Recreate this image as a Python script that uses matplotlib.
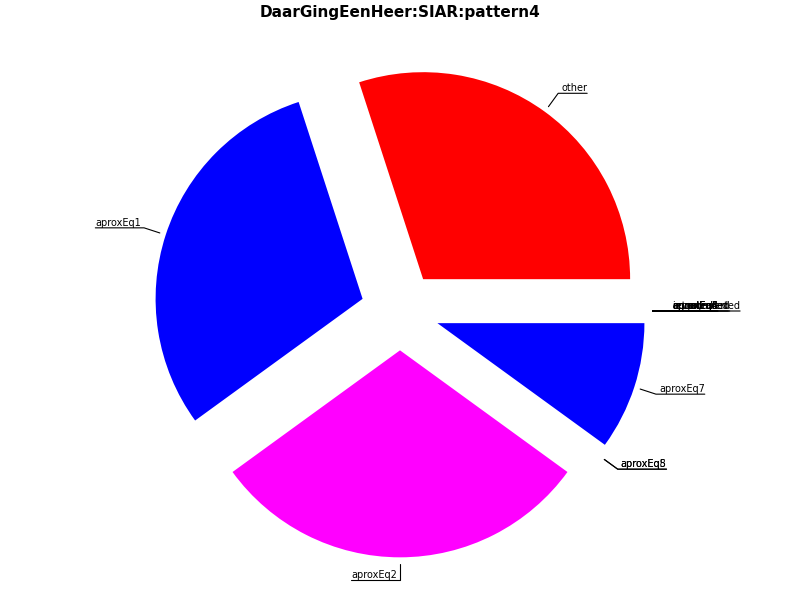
import numpy as np
import matplotlib
matplotlib.use("Agg")
import matplotlib.pyplot as plt

# ---- data ----
labels = ["other", "aproxEq1", "aproxEq2", "aproxEq5", "aproxEq8", "aproxEq7",
          "equal", "inverted", "retrograded", "augmented",
          "aproxEq3", "aproxEq4", "aproxEq6", "equalInverted"]
values = [3, 3, 3, 0, 0, 1, 0, 0, 0, 0, 0, 0, 0, 0]
colors = ["#FF0000", "#0000FF", "#FF00FF", "#00FFFF", "#00FF00", "#0000FF",
          "#FFFF00", "#00FFFF", "#00FF00", "#FF8000",
          "#808080", "#800080", "#008080", "#000080"]
title = "DaarGingEenHeer:SIAR:pattern4"

# ---- figure ----
fig = plt.figure(figsize=(8, 6), dpi=100)
ax = fig.add_axes([0, 0, 1, 1])
R = 207.0  # pixels per data unit (pie radius)

wedges, _ = ax.pie(values, colors=colors, explode=[0.19] * len(values),
                   startangle=0, counterclock=True)

vals = np.asarray(values, dtype=float)
fracs = vals / vals.sum()
starts = 360.0 * np.concatenate([[0.0], np.cumsum(fracs)[:-1]])
mids = starts + 180.0 * fracs
pad = 3.0 / R

for ang, lab in zip(mids, labels):
    cx = np.cos(np.deg2rad(ang))
    cy = np.sin(np.deg2rad(ang))
    if abs(cx) < 1e-6:
        cx = 0.0
    if abs(cy) < 1e-6:
        cy = 0.0
    if cx <= 0:
        ha, relpos, dx = "right", (0, 0), -pad
    else:
        ha, relpos, dx = "left", (1, 0), pad
    if cy == 0.0:
        cs = "arc3,rad=0"
    else:
        cs = f"angle,angleA=0,angleB={ang}"
    ax.annotate(lab, xy=(1.22 * cx, 1.22 * cy),
                xytext=(1.3 * cx + dx, 1.3 * cy),
                ha=ha, va="bottom", fontsize=7, color="black",
                arrowprops=dict(arrowstyle="-", color="black", lw=0.8,
                                shrinkA=0, shrinkB=0, relpos=relpos,
                                patchA=None, connectionstyle=cs))

ax.set_xlim(-400 / R, 400 / R)
ax.set_ylim(-289 / R, 311 / R)
ax.set_aspect("auto")
ax.axis("off")

fig.text(0.5, 1 - 13 / 600, title, ha="center", va="center",
         fontsize=11, fontweight="bold")

fig.savefig("out.png", dpi=100)
